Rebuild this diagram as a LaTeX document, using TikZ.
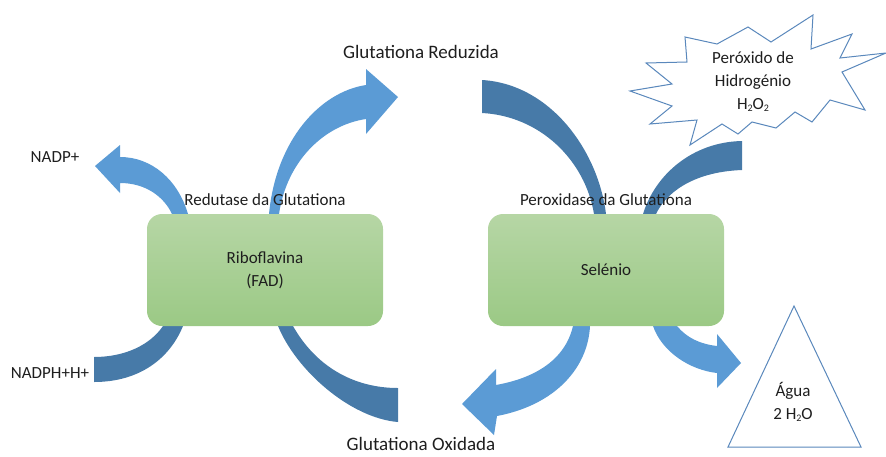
\documentclass[tikz,border=0pt]{standalone}
\usepackage{fontspec}
\setmainfont{Carlito}
\usetikzlibrary{positioning, calc}
\definecolor{gcInk}{HTML}{1E1E1E}
\definecolor{gcLight}{HTML}{5B9BD5}
\definecolor{gcDark}{HTML}{477AA8}
\definecolor{gcLine}{HTML}{5A88BC}
\definecolor{gcBoxTop}{HTML}{B6D6A5}
\definecolor{gcBoxBot}{HTML}{9BC985}
\newlength{\gcBoxW}
\setlength{\gcBoxW}{236pt}
\newlength{\gcBoxH}
\setlength{\gcBoxH}{112pt}
\newcommand{\gcfont}{\fontsize{17}{23}\selectfont}
\newcommand{\gcbigfont}{\fontsize{19}{23}\selectfont}
\newcommand{\gcsub}[1]{\raisebox{-0.25ex}{\fontsize{10}{10}\selectfont #1}}
\tikzset{
  gcbox/.style={
    rounded corners=15pt, top color=gcBoxTop, bottom color=gcBoxBot,
    minimum width=\gcBoxW, minimum height=\gcBoxH, inner sep=0pt,
    align=center, text=gcInk, font=\gcfont,
  },
  gclabel/.style={text=gcInk, font=\gcfont, align=center, inner sep=1pt},
  gctitle/.style={text=gcInk, font=\gcbigfont, align=center, inner sep=1pt},
  gclight/.style={fill=gcLight, draw=none},
  gcdark/.style={fill=gcDark, draw=none},
  gcshape/.style={draw=gcLine, fill=white, line width=1pt, line join=miter},
}

\begin{document}
\begin{tikzpicture}[x=1pt, y=-1pt]
\useasboundingbox (0,0) rectangle (886,456);

% Block arrows (behind the boxes) ------------------------------------------
% left cycle
\fill[gclight] (168,235) -- (172,214) .. controls (164,197) and (146,183) ..
  (120,183) -- (120,193) -- (95,166) -- (120,145) -- (120,157) .. controls
  (152,157) and (178,180) .. (188,214) -- (190,235) -- cycle;
\fill[gclight] (268,235) -- (269,214) .. controls (276,140) and (320,92) ..
  (366,85) -- (366,69) -- (398,97) -- (366,134) -- (366,119) .. controls
  (325,125) and (287,160) .. (279,214) -- (280,235) -- cycle;
\fill[gcdark] (94,357) .. controls (125,357) and (150,345) .. (163,326) --
  (170,310) -- (188,310) -- (183,326) .. controls (170,358) and (140,382) ..
  (94,382) -- cycle;
\fill[gcdark] (278,326) -- (276,310) -- (292,310) -- (293,326) .. controls
  (315,365) and (352,388) .. (398,388) -- (398,422) .. controls (350,418) and
  (296,370) .. (278,326) -- cycle;

% right cycle
\fill[gcdark] (482,80) .. controls (550,84) and (598,150) .. (606,214) --
  (607,235) -- (595,235) -- (594,214) .. controls (585,160) and (540,116) ..
  (482,113) -- cycle;
\fill[gcdark] (742,141) .. controls (692,142) and (655,175) .. (643,214) --
  (641,235) -- (655,235) -- (656,214) .. controls (665,195) and (690,172) ..
  (742,170) -- cycle;
\fill[gclight] (573,326) -- (575,310) -- (592,310) -- (590,326) .. controls
  (588,368) and (555,405) .. (497,416) -- (494,435) -- (462,404) -- (496,369)
  -- (496,385) .. controls (535,378) and (565,360) .. (573,326) -- cycle;
\fill[gclight] (653,326) -- (650,310) -- (675,310) -- (677,326) .. controls
  (687,338) and (700,344) .. (717,346) -- (717,334) -- (741,363) -- (717,388)
  -- (717,373) .. controls (690,370) and (662,352) .. (653,326) -- cycle;

% Starburst and triangle ----------------------------------------------------
\draw[gcshape] (630,91) -- (672,84) -- (646,63) -- (687,62) -- (685,37) --
  (717,44) -- (748,27) -- (771,42) -- (813,15) -- (811,49) -- (852,34) --
  (840,58) -- (886,53) -- (842,72) -- (865,110) -- (830,100) -- (812,122) --
  (795,112) -- (776,128) -- (752,122) -- (738,134) -- (722,124) -- (690,145)
  -- (697,120) -- (650,124) -- (672,106) -- cycle;
\draw[gcshape] (794,306) -- (861,447) -- (728,447) -- cycle;

% Boxes ---------------------------------------------------------------------
\node[gcbox] (ribo) at (265,270) {Riboflavina\\(FAD)};
\node[gcbox] (selenio) at (606,270) {Selénio};

% Labels --------------------------------------------------------------------
\node[gclabel] (redutase) at ($(ribo.north)+(0,-14)$) {Redutase da Glutationa};
\node[gclabel] (peroxidase) at ($(selenio.north)+(0,-14)$) {Peroxidase da Glutationa};
\node[gctitle] (gred) at (421,52) {Glutationa Reduzida};
\node[gctitle] (gox) at (421,444) {Glutationa Oxidada};
\node[gclabel] (nadp) at (55,157) {NADP+};
\node[gclabel] (nadph) at (50,373) {NADPH+H+};
\node[gclabel] (peroxido) at (753,82) {Peróxido de\\Hidrogénio\\H\gcsub{2}O\gcsub{2}};
\node[gclabel] (agua) at (793,402) {Água\\2 H\gcsub{2}O};

\end{tikzpicture}
\end{document}
